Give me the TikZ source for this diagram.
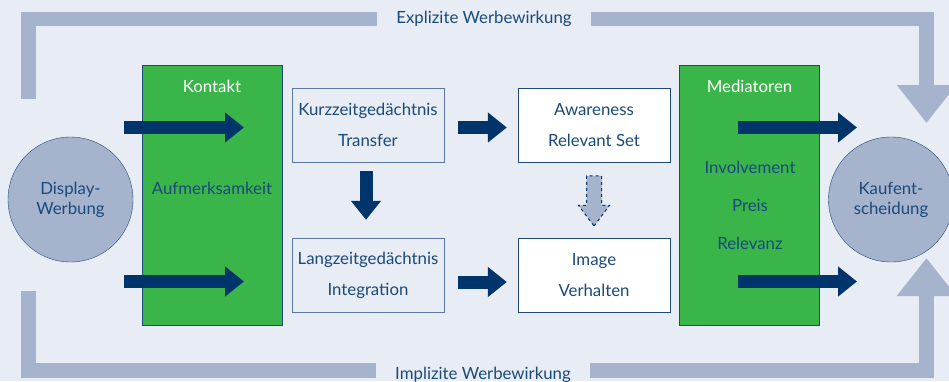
\documentclass[tikz,border=0pt]{standalone}
\usepackage{fontspec}
\setmainfont{Lato}
\usetikzlibrary{positioning,arrows.meta,shapes.arrows}
\definecolor{bggray}{HTML}{E8ECF4}
\definecolor{barblue}{HTML}{A6B3CD}
\definecolor{wgreen}{HTML}{3AB54A}
\definecolor{navy}{HTML}{00356B}
\definecolor{textblue}{HTML}{1A4A7A}
\definecolor{lineblue}{HTML}{1E4A7B}
\definecolor{softline}{HTML}{5A78A3}
\tikzset{
  every node/.style={font=\fontsize{16.8}{20}\selectfont, text=textblue},
  feedback/.style={line width=14.5pt, barblue, line join=miter},
  feedtip/.style={-{Triangle[width=57pt,length=38pt]}},
  fatarrow/.style={line width=13pt, navy, -{Triangle[width=29pt,length=19pt]}},
  greenbox/.style={draw=lineblue, fill=wgreen, minimum width=140pt, minimum height=260pt},
  membox/.style={draw=softline, fill=bggray, minimum width=152pt, minimum height=74pt, align=center},
  resbox/.style={draw=lineblue, fill=white, minimum width=152pt, minimum height=74pt, align=center},
  endcircle/.style={circle, draw=lineblue, fill=barblue, minimum size=125pt, inner sep=0pt, align=center},
  barlabel/.style={inner xsep=19pt}
}
\begin{document}
\begin{tikzpicture}[x=1pt,y=-1pt]
  \useasboundingbox (0,0) rectangle (949,381);
  \fill[bggray] (0,0) rectangle (949,381);

  % feedback loops
  \coordinate (ex-start) at (28.5,99);
  \coordinate (im-start) at (28.5,291);
  \coordinate (kauf-top) at (926.5,123);
  \coordinate (kauf-bot) at (926.5,258);
  \node[barlabel] (explizit) at (484,19) {Explizite Werbewirkung};
  \node[barlabel] (implizit) at (483,370.5) {\raisebox{-4pt}[\height][\depth]{Implizite Werbewirkung}};
  \draw[feedback] (ex-start) |- (explizit);
  \draw[feedback, feedtip] (explizit) -| (kauf-top);
  \draw[feedback] (im-start) |- (implizit);
  \draw[feedback, feedtip] (implizit) -| (kauf-bot);

  % circles
  \node[endcircle] (display) at (70.5,199.5) {Display-\\Werbung};
  \node[endcircle] (kauf) at (891,199.5) {Kaufent-\\scheidung};

  % green columns
  \node[greenbox] (kontaktbox) at (212,195) {};
  \node[text=white, below=12pt of kontaktbox.north] (kontakt) {Kontakt};
  \node (aufmerk) at (212,188) {Aufmerksamkeit};
  \node[greenbox] (mediabox) at (749.5,195) {};
  \node[text=white, below=12pt of mediabox.north] (mediat) {Mediatoren};
  \node[align=center] (mediat-list) at (750,205) {Involvement\\[18pt]Preis\\[18pt]Relevanz};

  % memory and outcome boxes
  \node[membox] (kurz) at (368,125) {Kurzzeitgedächtnis\\[11pt]Transfer};
  \node[membox] (lang) at (368,275) {Langzeitgedächtnis\\[11pt]Integration};
  \node[resbox] (aware) at (594,125) {Awareness\\[11pt]Relevant Set};
  \node[resbox] (image) at (594,275) {Image\\[11pt]Verhalten};

  % arrows
  \coordinate (k1s) at (124,127.5);
  \coordinate (k1e) at (244,127.5);
  \coordinate (k2s) at (124,281.5);
  \coordinate (k2e) at (244,281.5);
  \coordinate (m1s) at (738,127.5);
  \coordinate (m1e) at (857,127.5);
  \coordinate (m2s) at (738,281.5);
  \coordinate (m2e) at (857,281.5);
  \draw[fatarrow] (k1s) -- (k1e);
  \draw[fatarrow] (k2s) -- (k2e);
  \draw[fatarrow, shorten <=14pt, shorten >=11pt] ([yshift=-2.5pt]kurz.east) -- ([yshift=-2.5pt]aware.west);
  \draw[fatarrow, shorten <=14pt, shorten >=11pt] ([yshift=-7pt]lang.east) -- ([yshift=-7pt]image.west);
  \draw[fatarrow, shorten <=9pt, shorten >=18pt] ([xshift=-2pt]kurz.south) -- ([xshift=-2pt]lang.north);
  \node[single arrow, shape border rotate=270, draw=navy, dashed, line width=1pt,
        fill=barblue, minimum height=50pt, minimum width=30pt, inner sep=7pt,
        single arrow head extend=8pt, single arrow tip angle=74] (vorstufe) at (594,196) {};
  \draw[fatarrow] (m1s) -- (m1e);
  \draw[fatarrow] (m2s) -- (m2e);
\end{tikzpicture}
\end{document}
